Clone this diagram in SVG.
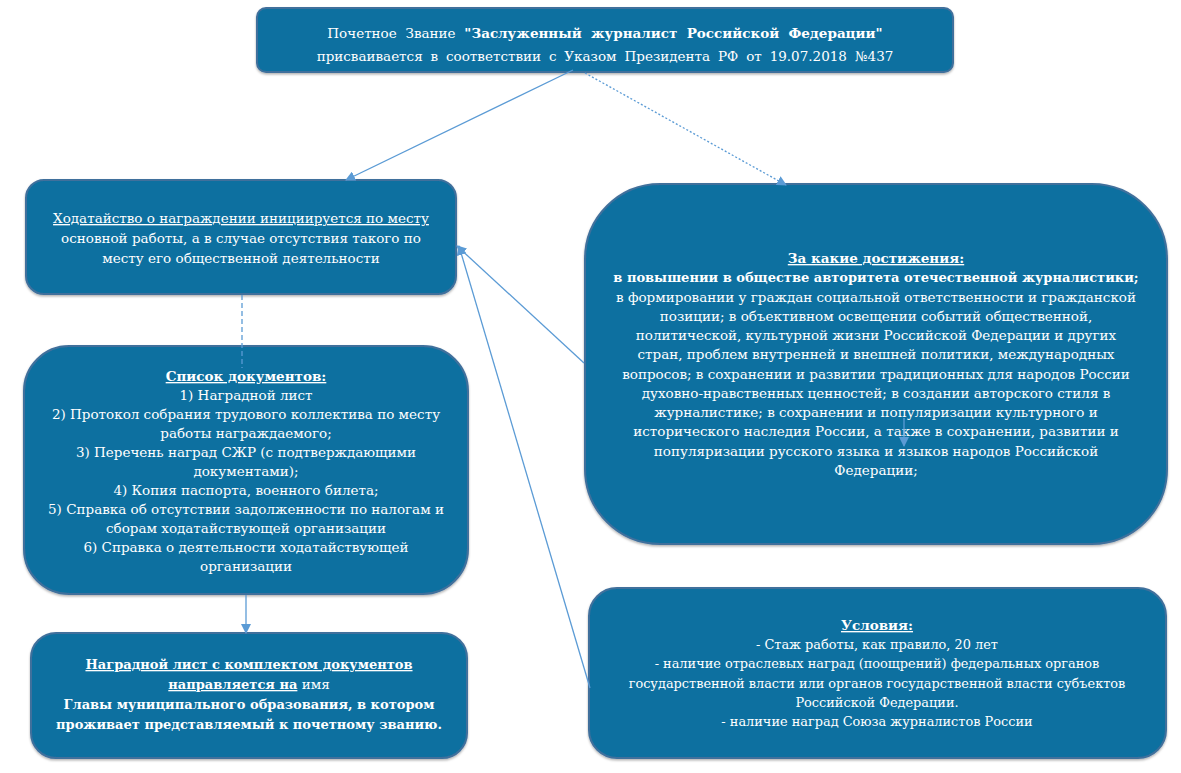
<svg xmlns="http://www.w3.org/2000/svg" width="1181" height="773" viewBox="0 0 1181 773">
<defs>
<marker id="ah" markerWidth="10" markerHeight="10" refX="9" refY="5" orient="auto" markerUnits="userSpaceOnUse">
<path d="M0,0 L10,5 L0,10 Z" fill="#5b9bd5"/>
</marker>
<filter id="sh" x="-5%" y="-5%" width="110%" height="115%">
<feDropShadow dx="0" dy="1.5" stdDeviation="1.2" flood-color="#000" flood-opacity="0.3"/>
</filter>
</defs>
<style>
.box{fill:#106fa0;stroke:#41709c;stroke-width:2;filter:url(#sh)}
text{font-family:'DejaVu Serif','Liberation Serif',serif;fill:#fff;font-size:13.5px;text-anchor:middle}
.b{font-weight:bold}
.bs{font-weight:bold;font-size:13px}
.u{text-decoration:underline}
.s{font-size:12.9px}
.c{fill:none;stroke:#5b9bd5;stroke-width:1.3}
</style>
<rect width="1181" height="773" fill="#fff"/>

<g id="n-top">
<rect class="box" x="257" y="8" width="696" height="64" rx="9"/>
<text x="605" y="38" word-spacing="4.5">Почетное Звание <tspan class="b">"Заслуженный журналист Российской Федерации"</tspan></text>
<text x="605" y="61" word-spacing="3.6">присваивается в соответствии с Указом Президента РФ от 19.07.2018 №437</text>
</g>

<g id="n-hodat">
<rect class="box" x="26" y="180" width="430" height="114" rx="18"/>
<text x="241" y="223" class="u">Ходатайство о награждении инициируется по месту</text>
<text x="241" y="243">основной работы, а в случае отсутствия такого по</text>
<text x="241" y="263">месту его общественной деятельности</text>
</g>

<g id="n-spisok">
<rect class="box" x="24" y="346" width="444" height="248" rx="45"/>
<text x="246" y="381" class="b u">Список документов:</text>
<text x="246" y="400">1) Наградной лист</text>
<text x="246" y="419">2) Протокол собрания трудового коллектива по месту</text>
<text x="246" y="438">работы награждаемого;</text>
<text x="246" y="457">3) Перечень наград СЖР (с подтверждающими</text>
<text x="246" y="476">документами);</text>
<text x="246" y="495">4) Копия паспорта, военного билета;</text>
<text x="246" y="514">5) Справка об отсутствии задолженности по налогам и</text>
<text x="246" y="533">сборам ходатайствующей организации</text>
<text x="246" y="552">6) Справка о деятельности ходатайствующей</text>
<text x="246" y="571">организации</text>
</g>

<g id="n-nagr">
<rect class="box" x="31" y="633" width="436" height="125" rx="25"/>
<text x="249" y="669" class="bs u">Наградной лист с комплектом документов</text>
<text x="249" y="689"><tspan class="bs u">направляется на</tspan> имя</text>
<text x="249" y="709" class="bs">Главы муниципального образования, в котором</text>
<text x="249" y="729" class="bs">проживает представляемый к почетному званию.</text>
</g>

<g id="n-dost">
<rect class="box" x="585" y="184" width="582" height="360" rx="75"/>
<text x="876" y="263" class="b u">За какие достижения:</text>
<text x="876" y="282.3" class="bs">в повышении в обществе авторитета отечественной журналистики;</text>
<text x="876" y="301.5">в формировании у граждан социальной ответственности и гражданской</text>
<text x="876" y="320.8">позиции; в объективном освещении событий общественной,</text>
<text x="876" y="340.1">политической, культурной жизни Российской Федерации и других</text>
<text x="876" y="359.4">стран, проблем внутренней и внешней политики, международных</text>
<text x="876" y="378.6">вопросов; в сохранении и развитии традиционных для народов России</text>
<text x="876" y="397.9">духовно-нравственных ценностей; в создании авторского стиля в</text>
<text x="876" y="417.2">журналистике; в сохранении и популяризации культурного и</text>
<text x="876" y="436.4">исторического наследия России, а также в сохранении, развитии и</text>
<text x="876" y="455.7">популяризации русского языка и языков народов Российской</text>
<text x="876" y="475">Федерации;</text>
</g>

<g id="n-uslov">
<rect class="box" x="589" y="588" width="577" height="170" rx="28"/>
<text x="877" y="630" class="b u">Условия:</text>
<text x="877" y="649" class="s">- Стаж работы, как правило, 20 лет</text>
<text x="877" y="668" class="s">- наличие отраслевых наград (поощрений) федеральных органов</text>
<text x="877" y="688" class="s">государственной власти или органов государственной власти субъектов</text>
<text x="877" y="707" class="s">Российской Федерации.</text>
<text x="877" y="726" class="s">- наличие наград Союза журналистов России</text>
</g>

<g id="connectors">
<line class="c" x1="573" y1="70" x2="346" y2="180" marker-end="url(#ah)"/>
<line class="c" x1="585" y1="73" x2="786" y2="185" stroke-width="2" stroke-dasharray="2 2" marker-end="url(#ah)"/>
<line class="c" x1="242" y1="295" x2="242" y2="368" stroke-width="2" stroke-dasharray="5 3"/>
<line class="c" x1="246" y1="595" x2="246" y2="633" stroke-width="2" marker-end="url(#ah)"/>
<line class="c" x1="584" y1="363" x2="457" y2="246" marker-end="url(#ah)"/>
<line class="c" x1="590" y1="688" x2="459" y2="246" marker-end="url(#ah)"/>
<line class="c" x1="904" y1="418" x2="904" y2="446" marker-end="url(#ah)"/>
</g>
</svg>
